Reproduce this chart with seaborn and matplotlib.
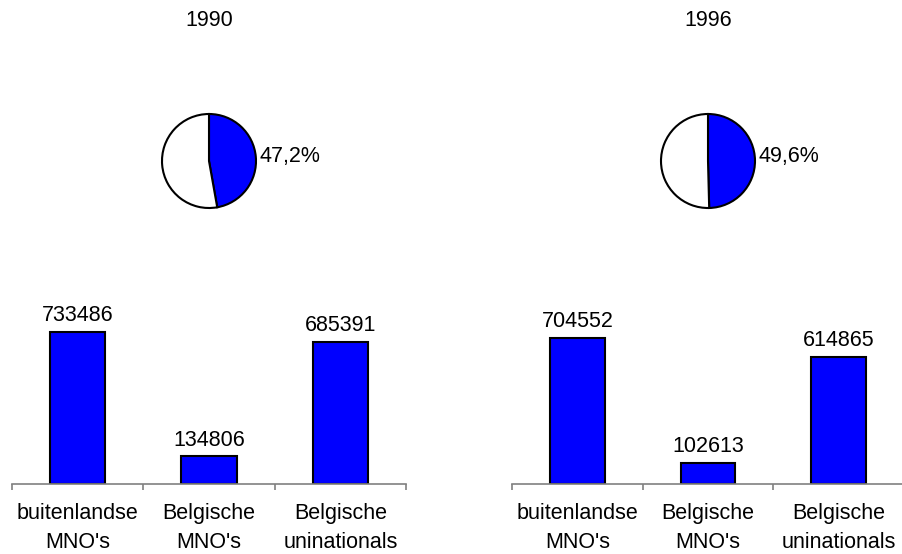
import pandas as pd
import matplotlib
matplotlib.use("Agg")
import matplotlib.pyplot as plt
import seaborn as sns

# === Data ===
years = ["1990", "1996"]
pie_shares = [47.2, 49.6]
pie_labels = ["47,2%", "49,6%"]
categories = ["buitenlandse\nMNO's", "Belgische\nMNO's", "Belgische\nuninationals"]
values_1990 = [733486, 134806, 685391]
values_1996 = [704552, 102613, 614865]
bar_values = [values_1990, values_1996]

sns.set_style("white")
plt.rcParams["font.family"] = ["Liberation Sans", "DejaVu Sans"]
plt.rcParams["text.color"] = "black"
plt.rcParams["xtick.labelcolor"] = "black"
FS = 15.5

W, H = 902, 554
fig = plt.figure(figsize=(W / 100, H / 100), dpi=100)


def frac(x0, y_top, w, h):
    # pixel box -> figure fraction
    return [x0 / W, 1 - (y_top + h) / H, w / W, h / H]


pie_centers = [209, 708]
bar_lefts = [12, 512]
bar_width_px = [394, 392]

for i, year in enumerate(years):
    # --- pie ---
    cx, cy, r = pie_centers[i], 161, 47
    pax = fig.add_axes(frac(cx - r, cy - r, 2 * r, 2 * r))
    share = pie_shares[i]
    pax.pie([share, 100 - share], colors=["#0000FF", "white"], startangle=90,
            counterclock=False, radius=1,
            wedgeprops=dict(edgecolor="black", linewidth=1.5))
    pax.set_xlim(-1, 1)
    pax.set_ylim(-1, 1)
    pax.set_aspect("equal")
    pax.axis("off")
    pax.text(1.08, -0.02, pie_labels[i], ha="left", va="baseline", fontsize=FS)
    pax.text(0, 3.0, year, ha="center", va="center", fontsize=FS, clip_on=False)

    # --- bars ---
    bax = fig.add_axes(frac(bar_lefts[i], 300, bar_width_px[i], 184))
    df = pd.DataFrame({"category": categories, "value": bar_values[i]})
    sns.barplot(data=df, x="category", y="value", ax=bax, color="#0000FF",
                saturation=1, width=0.42, edgecolor="black", linewidth=1.5)
    bax.bar_label(bax.containers[0], labels=[str(v) for v in bar_values[i]],
                  padding=4, fontsize=FS)
    bax.set_xlim(-0.5, 2.5)
    bax.set_ylim(0, 888000)
    bax.set_xlabel("")
    bax.set_ylabel("")
    bax.set_yticks([])
    for s in ["top", "right", "left"]:
        bax.spines[s].set_visible(False)
    bax.spines["bottom"].set_color("#808080")
    bax.spines["bottom"].set_linewidth(1.2)
    bax.set_xticks([-0.5, 0.5, 1.5, 2.5])
    bax.set_xticklabels([])
    bax.set_xticks([0, 1, 2], minor=True)
    bax.set_xticklabels(categories, minor=True, fontsize=FS, linespacing=1.45)
    bax.tick_params(axis="x", which="major", direction="out", length=4,
                    color="#808080", width=1.2, bottom=True)
    bax.tick_params(axis="x", which="minor", length=0, pad=14, bottom=True)

fig.savefig("out.png", dpi=100)
